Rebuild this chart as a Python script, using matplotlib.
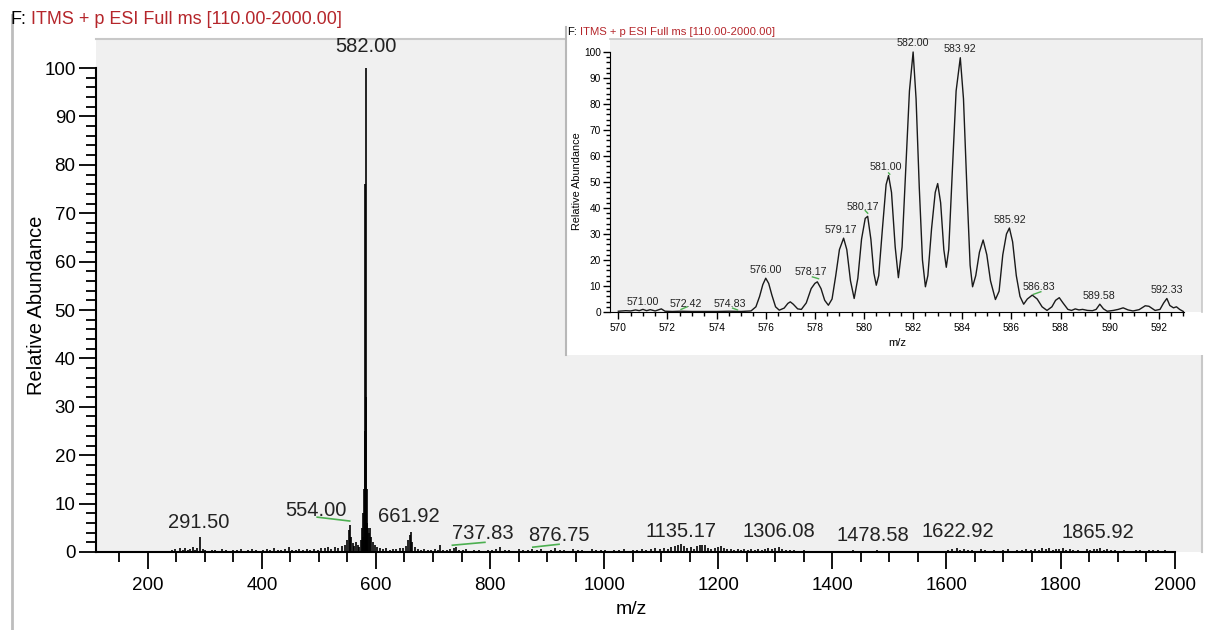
import matplotlib.pyplot as plt
from matplotlib.lines import Line2D

plt.rcParams['font.family'] = ['Liberation Sans', 'DejaVu Sans']

# full scan, centroid sticks (m/z, relative abundance)
main_mz = [242, 248, 252, 256, 261, 265, 270, 274, 279, 283, 287, 291.5, 296, 300,
           305, 312, 318, 325, 331, 338, 344, 350, 357, 363, 370, 376, 383, 389,
           396, 402, 409, 415, 421, 428, 434, 441, 447, 453, 460, 466, 472, 479,
           485, 491, 498, 504, 510, 516, 522, 528, 534, 540, 545, 549, 552, 554,
           556, 559, 562, 565, 568, 571, 574,
           576, 577, 578.17, 579.17, 580.17, 581, 582, 583, 583.92, 585, 585.92,
           588, 590, 592, 595,
           598, 602, 607, 612, 618, 624, 630, 636, 642, 648, 653, 657, 659, 661.92,
           664, 668, 673, 679, 685, 691, 697, 703, 709, 712, 718, 724, 730, 736,
           740, 746, 752, 758, 765, 772, 780, 788, 796, 803, 811, 818, 826, 834,
           842, 850, 858, 866, 874, 882, 890, 898, 906, 914, 922, 930, 938, 946,
           954, 962, 970, 978, 986, 994, 1002, 1010, 1018, 1026, 1034, 1042, 1050,
           1058, 1066, 1074, 1082, 1090, 1098, 1105, 1112, 1118, 1124, 1130, 1135,
           1140, 1146, 1152, 1158, 1163, 1168, 1172, 1177, 1182, 1188, 1194, 1200,
           1205, 1210, 1216, 1222, 1228, 1234, 1240, 1246, 1252, 1258, 1264, 1270,
           1276, 1282, 1288, 1294, 1300, 1306, 1312, 1318, 1325, 1332, 1340, 1350,
           1362, 1375, 1390, 1405, 1420, 1436, 1448, 1462, 1478, 1492, 1505, 1520,
           1540, 1555, 1572, 1590, 1602, 1610, 1618, 1624, 1630, 1637, 1645, 1652,
           1660, 1668, 1676, 1684, 1692, 1700, 1708, 1716, 1724, 1732, 1740, 1748,
           1756, 1762, 1768, 1774, 1780, 1786, 1792, 1798, 1804, 1810, 1816, 1822,
           1830, 1838, 1846, 1852, 1858, 1864, 1870, 1876, 1882, 1888, 1896, 1904,
           1912, 1920, 1932, 1940, 1948, 1955, 1962, 1970, 1976, 1984, 1992, 1998]
main_int = [0.4, 0.6, 0.3, 0.8, 0.5, 0.9, 0.4, 0.7, 1.0, 0.5, 0.8, 3.0, 0.6, 0.4,
            0.3, 0.5, 0.4, 0.3, 0.6, 0.4, 0.3, 0.5, 0.4, 0.6, 0.3, 0.5, 0.7, 0.4,
            0.3, 0.5, 0.6, 0.4, 0.8, 0.5, 0.4, 0.6, 1.0, 0.5, 0.4, 0.6, 0.5, 0.7,
            0.4, 0.6, 0.5, 0.9, 0.8, 1.0, 0.7, 1.1, 0.9, 1.2, 1.5, 2.5, 4.5, 5.5,
            3.0, 1.8, 1.2, 2.0, 1.5, 1.0, 2.5,
            5.0, 3.0, 8.0, 13.0, 25.0, 76.0, 100.0, 32.0, 13.0, 6.0, 5.0,
            4.0, 5.0, 3.0, 2.0,
            1.5, 1.0, 0.8, 0.6, 0.9, 0.5, 0.7, 0.6, 0.9, 0.8, 1.2, 2.5, 3.5, 4.2,
            2.0, 1.0, 0.6, 0.5, 0.7, 0.4, 0.5, 0.6, 0.5, 1.5, 0.4, 0.5, 0.6, 0.8,
            1.0, 0.5, 0.4, 0.6, 0.3, 0.5, 0.4, 0.3, 0.5, 0.4, 0.6, 1.0, 0.4, 0.5,
            0.3, 0.6, 0.4, 0.5, 0.7, 0.4, 0.6, 0.3, 0.5, 0.8, 0.4, 0.5, 0.3, 0.6,
            0.4, 0.5, 0.3, 0.6, 0.4, 0.5, 0.4, 0.3, 0.5, 0.4, 0.6, 0.3, 0.5,
            0.4, 0.6, 0.5, 0.7, 0.8, 0.6, 0.9, 0.7, 1.0, 1.2, 1.4, 1.6,
            1.2, 0.8, 1.0, 0.7, 1.2, 1.5, 1.4, 1.5, 0.9, 0.7, 0.9, 1.0,
            1.3, 0.8, 0.6, 0.7, 0.5, 0.6, 0.5, 0.7, 0.5, 0.6, 0.4, 0.6,
            0.5, 0.7, 0.8, 0.6, 0.9, 1.0, 0.6, 0.5, 0.4, 0.5, 0.3, 0.4,
            0.3, 0.2, 0.3, 0.2, 0.3, 0.4, 0.3, 0.2, 0.4, 0.2, 0.3, 0.2,
            0.3, 0.2, 0.3, 0.2, 0.4, 0.6, 0.8, 0.5, 0.7, 0.4, 0.5, 0.3,
            0.6, 0.4, 0.3, 0.5, 0.3, 0.4, 0.6, 0.3, 0.5, 0.4, 0.6, 0.5,
            0.7, 0.5, 0.8, 0.6, 0.9, 0.5, 0.7, 0.6, 0.8, 0.5, 0.6, 0.4,
            0.5, 0.3, 0.6, 0.5, 0.7, 0.6, 0.8, 0.5, 0.6, 0.4, 0.5, 0.3,
            0.4, 0.3, 0.5, 0.4, 0.3, 0.5, 0.4, 0.5, 0.3, 0.4, 0.3, 0.2]

main_labels = ['582.00', '291.50', '554.00', '661.92', '737.83', '876.75',
               '1135.17', '1306.08', '1478.58', '1622.92', '1865.92']
main_label_x = [582, 290, 494, 658, 788, 921, 1135, 1306, 1471, 1620, 1865]
main_label_y = [104.5, 6.1, 8.5, 7.4, 3.8, 3.5, 4.3, 4.2, 3.5, 4.2, 4.0]

# green annotation ticks under some labels (x pair, y pair)
main_mark_x = [(497, 554), (734, 791), (875, 921)]
main_mark_y = [(7.2, 6.4), (1.4, 2.0), (1.0, 1.6)]

# zoomed profile 570-593
zoom_mz = [570.0, 570.3, 570.5, 570.7, 570.85, 571.0, 571.15, 571.3, 571.5, 571.75,
           571.9, 572.2, 572.5, 573.0, 573.5, 574.0, 574.5, 575.0, 575.4, 575.6,
           575.75, 575.88, 576.0, 576.12, 576.25, 576.4, 576.55, 576.75, 576.9, 577.0,
           577.12, 577.3, 577.45, 577.65, 577.85, 578.0, 578.1, 578.25, 578.4, 578.55,
           578.7, 578.85, 579.0, 579.17, 579.3, 579.45, 579.6, 579.75, 579.9, 580.05,
           580.15, 580.28, 580.4, 580.5, 580.6, 580.75, 580.9, 581.0, 581.12, 581.27,
           581.4, 581.55, 581.7, 581.85, 582.0, 582.12, 582.25, 582.38, 582.5, 582.6,
           582.75, 582.9, 583.0, 583.12, 583.25, 583.35, 583.45, 583.6, 583.75, 583.92,
           584.05, 584.2, 584.32, 584.42, 584.55, 584.7, 584.85, 585.0, 585.15, 585.35,
           585.5, 585.65, 585.8, 585.92, 586.05, 586.2, 586.35, 586.5, 586.65, 586.85,
           587.05, 587.25, 587.45, 587.65, 587.8, 587.95, 588.1, 588.3, 588.45, 588.6,
           588.75, 588.9, 589.1, 589.3, 589.45, 589.6, 589.75, 589.9, 590.15, 590.35,
           590.55, 590.75, 590.95, 591.2, 591.45, 591.6, 591.85, 592.05, 592.2, 592.33,
           592.45, 592.6, 592.72, 592.85, 593.0]
zoom_int = [0.3, 0.5, 0.4, 0.8, 0.5, 1.0, 0.5, 0.9, 0.4, 1.2,
            0.3, 0.2, 0.3, 0.2, 0.2, 0.2, 0.3, 0.2, 0.4, 2.0,
            6.0, 10.5, 13.0, 11.0, 6.5, 2.0, 0.7, 1.5, 3.3, 3.9,
            3.0, 1.2, 1.0, 3.5, 9.0, 11.0, 11.6, 9.0, 4.5, 2.6,
            5.0, 14.0, 24.0, 28.4, 24.0, 12.0, 5.2, 13.0, 28.0, 36.0,
            36.8, 28.0, 15.0, 10.3, 14.0, 32.0, 49.0, 52.5, 46.0, 25.0,
            13.2, 25.0, 55.0, 85.0, 100.0, 82.0, 48.0, 20.0, 9.7, 14.0,
            32.0, 46.0, 49.4, 42.0, 24.0, 17.2, 24.0, 55.0, 85.0, 97.8,
            82.0, 45.0, 18.0, 9.7, 14.0, 23.0, 27.7, 22.0, 12.0, 4.8,
            8.0, 22.0, 30.0, 32.3, 27.0, 14.0, 6.0, 3.0, 5.0, 6.5,
            5.0, 2.0, 0.6, 2.0, 4.5, 5.5, 3.5, 1.0, 0.6, 1.2,
            0.8, 1.0, 0.6, 0.5, 1.0, 3.0, 1.2, 0.3, 0.6, 1.0,
            1.6, 0.8, 0.4, 0.9, 2.4, 2.2, 0.6, 1.0, 3.5, 5.2,
            2.5, 1.6, 2.0, 1.0, 0.2]

zoom_labels = ['571.00', '572.42', '574.83', '576.00', '578.17', '579.17', '580.17',
               '581.00', '582.00', '583.92', '585.92', '586.83', '589.58', '592.33']
zoom_label_x = [571.0, 572.74, 574.54, 576.02, 577.85, 579.04, 579.95,
                580.89, 582.0, 583.92, 585.92, 587.11, 589.55, 592.32]
zoom_label_y = [3.9, 3.2, 3.2, 16.1, 15.2, 31.6, 40.4,
                55.9, 103.5, 101.0, 35.5, 9.7, 6.1, 8.4]

zoom_mark_x = [(572.55, 572.8), (574.65, 574.85), (577.9, 578.15), (580.05, 580.15),
               (581.0, 581.05), (586.9, 587.2)]
zoom_mark_y = [(1.0, 2.0), (1.5, 0.8), (13.5, 12.8), (39.0, 38.0),
               (53.5, 53.0), (6.8, 7.8)]

title_red = 'ITMS + p ESI Full ms [110.00-2000.00]'
red = '#b5262b'
green = '#4caf50'
box_gray = '#f0f0f0'

W, H = 1208, 630
fig = plt.figure(figsize=(W / 100, H / 100), dpi=100)
renderer = fig.canvas.get_renderer()


def px_rect(x0, y0, x1, y1):
    # pixel box (origin top-left) -> figure fraction rect
    return [x0 / W, 1 - y1 / H, (x1 - x0) / W, (y1 - y0) / H]


def title(x_px, y_px, size):
    t = fig.text(x_px / W, 1 - y_px / H, 'F:', fontsize=size, color='black', va='center')
    bb = t.get_window_extent(renderer)
    fig.text((bb.x1 + size * 0.38) / W, 1 - y_px / H, title_red, fontsize=size,
             color=red, va='center')


# outer frame line on the left
fig.add_artist(Line2D([12 / W, 12 / W], [0, 1 - 15 / H], color='#bdbdbd', lw=2))

# ---- main spectrum ----
ax = fig.add_axes(px_rect(96.4, 39, 1202, 552))
ax.set_facecolor(box_gray)
ax.vlines(main_mz, 0, main_int, color='black', lw=1.2)
ax.set_xlim(110, 2048)
ax.set_ylim(0, 106)
ax.set_xticks(range(200, 2001, 200))
ax.set_xticks(range(150, 2001, 50), minor=True)
ax.set_yticks(range(0, 101, 10))
ax.set_yticks(range(0, 101, 2), minor=True)
ax.tick_params(which='major', length=12, width=1.3, labelsize=13.5, color='black')
ax.tick_params(which='minor', length=7, width=1.3)
ax.tick_params(axis='x', which='major', pad=6)
ax.tick_params(axis='y', which='major', pad=3)
for s in ['top', 'right']:
    ax.spines[s].set_color('#c8c8c8')
    ax.spines[s].set_linewidth(1.5)
ax.spines['left'].set_linewidth(1.5)
ax.spines['bottom'].set_linewidth(1.5)
ax.spines['left'].set_bounds(0, 100)
ax.spines['bottom'].set_bounds(110, 2000)
ax.set_ylabel('Relative Abundance', fontsize=14.5)
ax.yaxis.set_label_coords(-0.0456, 0.48)
ax.set_xlabel('m/z', fontsize=14)
ax.xaxis.set_label_coords(0.484, -0.0955)
for lab, x, y in zip(main_labels, main_label_x, main_label_y):
    ax.text(x, y, lab, fontsize=14.5, ha='center', va='center', color='#222222',
            clip_on=False)
for mx, my in zip(main_mark_x, main_mark_y):
    ax.plot(mx, my, color=green, lw=1.2)

title(10, 19, 13)

# ---- inset panel ----
panel = fig.add_axes(px_rect(566, 27, 1208, 355))
panel.set_facecolor('white')
panel.set_xticks([])
panel.set_yticks([])
for s in ['top', 'right', 'bottom']:
    panel.spines[s].set_visible(False)
panel.spines['left'].set_color('#b8b8b8')
panel.spines['left'].set_linewidth(1.5)

ins = fig.add_axes(px_rect(610, 39, 1202, 312))
ins.set_facecolor(box_gray)
ins.plot(zoom_mz, zoom_int, color='#1a1a1a', lw=1.0)
ins.set_xlim(569.66, 593.76)
ins.set_ylim(0, 105)
ins.set_xticks(range(570, 593, 2))
ins.set_xticks([570 + 0.5 * i for i in range(0, 47)], minor=True)
ins.set_yticks(range(0, 101, 10))
ins.set_yticks(range(0, 101, 2), minor=True)
ins.tick_params(which='major', length=5, width=1.0, labelsize=7.3)
ins.tick_params(which='minor', length=3, width=1.0)
ins.tick_params(axis='x', which='major', pad=3)
ins.tick_params(axis='y', which='major', pad=1.5)
for s in ['top', 'right']:
    ins.spines[s].set_color('#c8c8c8')
    ins.spines[s].set_linewidth(1.2)
ins.spines['left'].set_bounds(0, 100)
ins.spines['bottom'].set_bounds(569.66, 593.03)
ins.set_ylabel('Relative Abundance', fontsize=7.8)
ins.yaxis.set_label_coords(-0.047, 0.48)
ins.set_xlabel('m/z', fontsize=8)
ins.xaxis.set_label_coords(0.485, -0.095)
for lab, x, y in zip(zoom_labels, zoom_label_x, zoom_label_y):
    ins.text(x, y, lab, fontsize=7.7, ha='center', va='center', color='#222222',
             clip_on=False)
for mx, my in zip(zoom_mark_x, zoom_mark_y):
    ins.plot(mx, my, color=green, lw=1.0)

title(567, 32, 8.1)

fig.savefig('out.png', dpi=100)
